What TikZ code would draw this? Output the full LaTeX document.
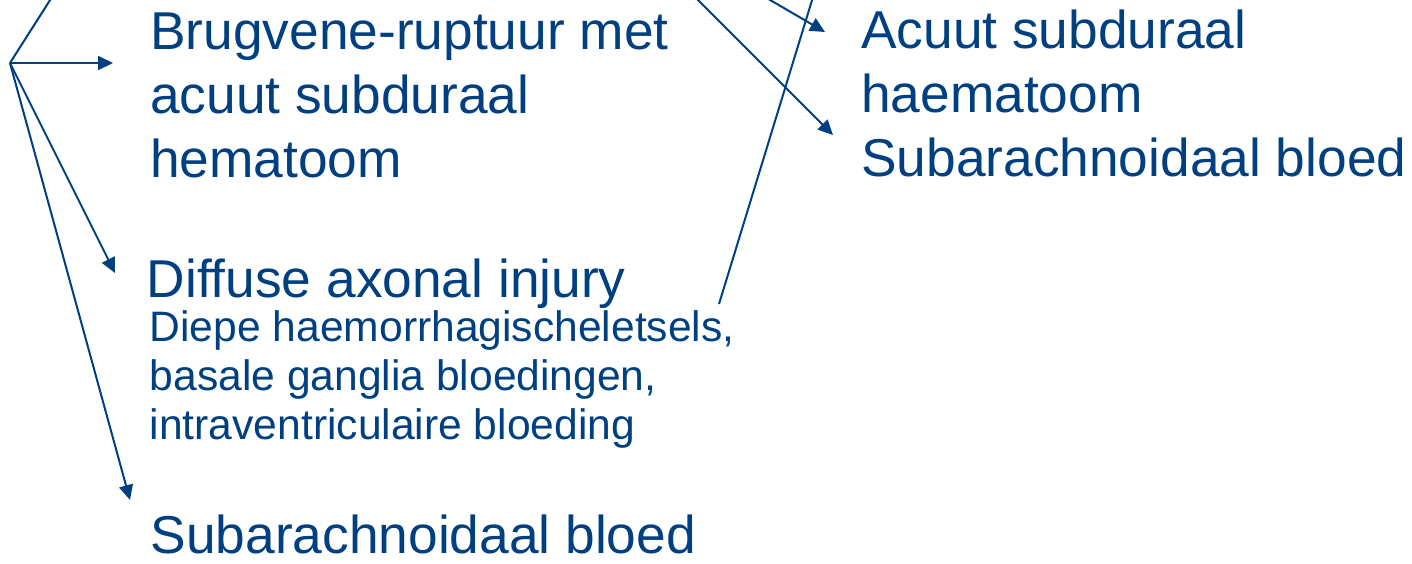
\documentclass[tikz,border=0pt]{standalone}
\usepackage{fontspec}
\setmainfont{Liberation Sans}
\usepackage{tikz}
\usetikzlibrary{arrows.meta}
\usepackage{xcolor}
\definecolor{clrnavy}{RGB}{0,64,128}

\begin{document}
\begin{tikzpicture}[x=1pt, y=-1pt,
    big/.style={font=\fontsize{53.3}{64}\selectfont, text=clrnavy,
                anchor=base west, inner sep=0pt, align=left},
    small/.style={big, font=\fontsize{42.6}{49}\selectfont},
    arr/.style={-{Triangle[length=15pt,width=14pt]}, line width=2pt, clrnavy},
    lne/.style={line width=2pt, clrnavy},
  ]
    \useasboundingbox (0,0) rectangle (1412,563);
    \clip (0,0) rectangle (1412,563);

    % text blocks (base = baseline of the last line)
    \node[big]   (bridge) at (150,177)   {Brugvene-ruptuur met\\acuut subduraal\\hematoom};
    \node[big]   (dai)    at (146.5,297) {Diffuse axonal injury};
    \node[small] (deep)   at (149.5,439) {Diepe haemorrhagischeletsels,\\basale ganglia bloedingen,\\intraventriculaire bloeding};
    \node[big]   (sab)    at (150.5,553) {Subarachnoidaal bloed};
    \node[big]   (right)  at (861,176)   {Acuut subduraal\\haematoom\\Subarachnoidaal bloed};

    % hub and free ends
    \coordinate (hub)  at (10,63);
    \coordinate (up)   at (52,-3);
    \coordinate (tbr)  at (113,63);
    \coordinate (tdai) at (115,273);
    \coordinate (tsab) at (130,500);
    \coordinate (s1)   at (695,-3);
    \coordinate (e1)   at (833,135);
    \coordinate (s2)   at (765,-3);
    \coordinate (e2)   at (825,32);
    \coordinate (s3)   at (813,-3);
    \coordinate (e3)   at (719,304);

    \draw[lne] (hub) -- (up);
    \draw[arr] (hub) -- (tbr);
    \draw[arr] (hub) -- (tdai);
    \draw[arr] (hub) -- (tsab);
    \draw[arr] (s1)  -- (e1);
    \draw[arr] (s2)  -- (e2);
    \draw[lne] (s3)  -- (e3);
\end{tikzpicture}
\end{document}
